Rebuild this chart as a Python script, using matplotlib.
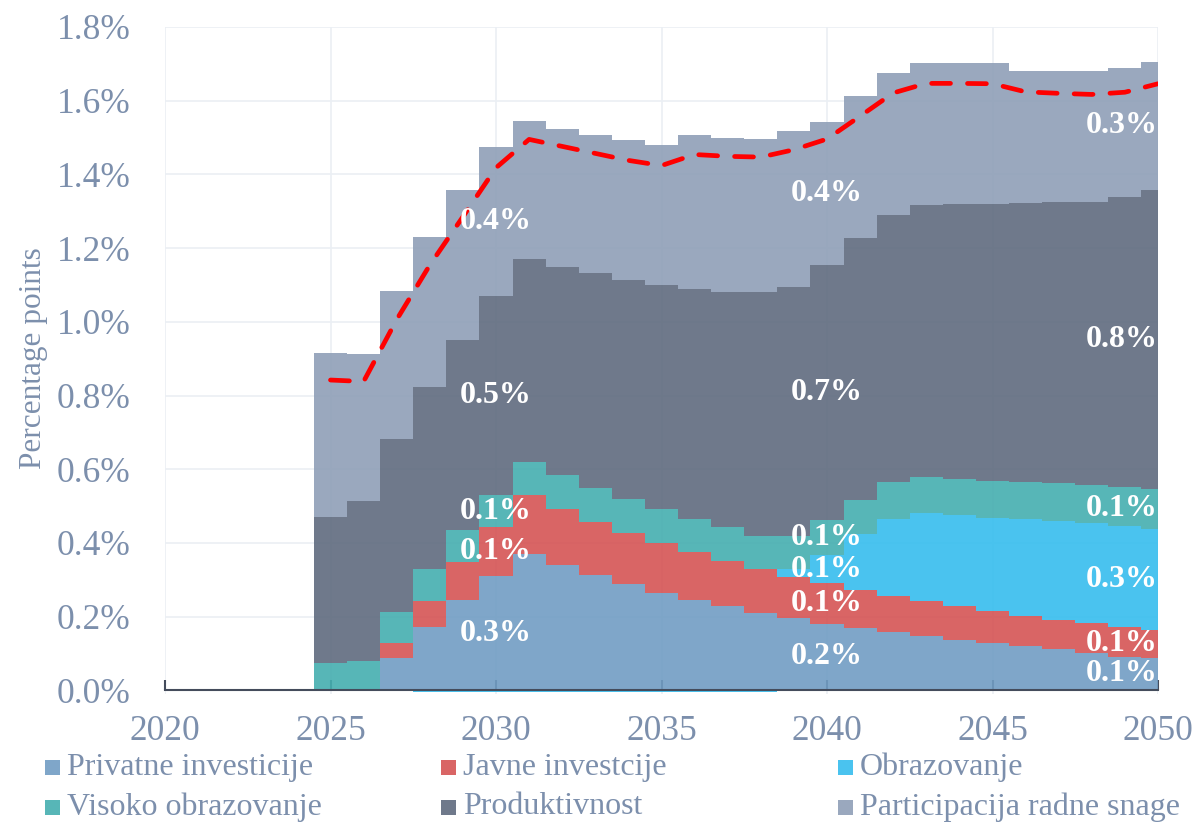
import matplotlib
matplotlib.use("Agg")
import matplotlib.pyplot as plt
from matplotlib.patches import Rectangle
from matplotlib.ticker import FuncFormatter, MultipleLocator
import numpy as np

plt.rcParams["font.family"] = ["Liberation Serif", "DejaVu Serif"]

# ── podaci (postotni poeni) ─────────────────────────────────────────────────
years = list(range(2020, 2051))

privatne = [0, 0, 0, 0, 0,
            -0.003, -0.003, 0.089, 0.172, 0.245, 0.310, 0.370, 0.340, 0.3125, 0.288,
            0.265, 0.245, 0.228, 0.210, 0.195, 0.181, 0.169, 0.157, 0.147, 0.136,
            0.129, 0.120, 0.111, 0.102, 0.0905, 0.089]
javne = [0, 0, 0, 0, 0,
         0, 0, 0.039, 0.071, 0.104, 0.132, 0.161, 0.153, 0.1445, 0.140,
         0.135, 0.130, 0.123, 0.120, 0.113, 0.109, 0.103, 0.099, 0.095, 0.093,
         0.086, 0.082, 0.081, 0.081, 0.0815, 0.074]
obrazovanje = [0, 0, 0, 0, 0,
               0, 0, 0, -0.004, -0.004, -0.004, -0.004, -0.004, -0.004, -0.004,
               -0.004, -0.004, -0.004, -0.004, 0.022, 0.077, 0.151, 0.210, 0.238, 0.247,
               0.253, 0.262, 0.268, 0.270, 0.274, 0.276]
visoko = [0, 0, 0, 0, 0,
          0.075, 0.079, 0.084, 0.086, 0.086, 0.089, 0.088, 0.090, 0.091, 0.091,
          0.091, 0.091, 0.091, 0.090, 0.088, 0.095, 0.094, 0.098, 0.098, 0.097,
          0.101, 0.101, 0.102, 0.103, 0.105, 0.107]
produktivnost = [0, 0, 0, 0, 0,
                 0.396, 0.435, 0.469, 0.495, 0.516, 0.538, 0.552, 0.567, 0.584, 0.595,
                 0.610, 0.624, 0.640, 0.660, 0.676, 0.693, 0.710, 0.725, 0.739, 0.746,
                 0.752, 0.757, 0.762, 0.770, 0.787, 0.813]
participacija = [0, 0, 0, 0, 0,
                 0.444, 0.399, 0.402, 0.405, 0.407, 0.405, 0.375, 0.374, 0.375, 0.379,
                 0.378, 0.417, 0.418, 0.416, 0.423, 0.388, 0.386, 0.385, 0.384, 0.382,
                 0.382, 0.359, 0.357, 0.355, 0.350, 0.345]
ukupno = [np.nan] * 5 + [
    0.842, 0.838, 1.006, 1.154, 1.285, 1.418, 1.495, 1.476, 1.457, 1.438,
    1.424, 1.454, 1.449, 1.447, 1.467, 1.496, 1.558, 1.621, 1.647, 1.647,
    1.646, 1.624, 1.620, 1.617, 1.623, 1.646]

labels = ["Privatne investicije", "Javne investcije", "Obrazovanje",
          "Visoko obrazovanje", "Produktivnost", "Participacija radne snage"]
series = [privatne, javne, obrazovanje, visoko, produktivnost, participacija]
colors = ["#719DC3", "#D55454", "#36BDEE", "#45AEB0", "#5F6B7E", "#8F9FB7"]
label_years = [2030, 2040, 2050]

TXT = "#7C8FAC"

fig = plt.figure(figsize=(11.99, 8.24), dpi=100)
ax = fig.add_axes([165 / 1199, 1 - 694 / 824, (1158 - 165) / 1199, (694 - 27) / 824])

x = np.array(years)
pos = np.zeros(len(x))
neg = np.zeros(len(x))
segments = []
for name, vals, col in zip(labels, series, colors):
    v = np.array(vals, dtype=float)
    bottom = np.where(v >= 0, pos, neg)
    ax.bar(x, v, width=1.0, bottom=bottom, color=col, alpha=0.9,
           linewidth=0, antialiased=False, zorder=2)
    segments.append((v, bottom))
    pos = pos + np.clip(v, 0, None)
    neg = neg + np.clip(v, None, 0)

ax.plot(x, ukupno, color="#FF0000", linewidth=3.4, linestyle=(0, (4, 3.6)),
        dash_capstyle="round", zorder=4)

# oznake vrijednosti
for yr in label_years:
    i = years.index(yr)
    for v, bottom in segments:
        if v[i] <= 0.01:
            continue
        ha = "right" if yr == years[-1] else "center"
        ax.text(yr, bottom[i] + v[i] / 2, f"{v[i]:.1f}%", ha=ha, va="center",
                color="white", fontsize=23, fontweight="bold", zorder=5)

ax.set_xlim(2020, 2050)
ax.set_ylim(-0.01, 1.8)
ax.xaxis.set_major_locator(MultipleLocator(5))
ax.yaxis.set_major_locator(MultipleLocator(0.2))
ax.yaxis.set_major_formatter(FuncFormatter(lambda v, p: f"{v:.1f}%"))
ax.grid(True, color="#EBEFF4", linewidth=1.2, zorder=0)
ax.set_axisbelow(True)

for s in ("top", "right", "left"):
    ax.spines[s].set_visible(False)
ax.spines["bottom"].set_position(("data", 0))
ax.spines["bottom"].set_color("#444C5C")
ax.spines["bottom"].set_linewidth(1.5)
ax.spines["bottom"].set_zorder(6)

ax.tick_params(axis="x", direction="in", length=7, width=1.5, color="#444C5C",
               labelsize=25.5, labelcolor=TXT, pad=18)
ax.tick_params(axis="y", length=0, labelsize=25.5, labelcolor=TXT, pad=25)

fig.text(34 / 1199, 1 - 358 / 824, "Percentage points", rotation=90,
         ha="center", va="center", fontsize=22.5, color=TXT)

# legenda
col_x = [45, 441, 838]
row_y = [767, 807]
for k, (name, col) in enumerate(zip(labels, colors)):
    r, c = divmod(k, 3)
    mx, my = col_x[c], row_y[r]
    fig.patches.append(Rectangle((mx / 1199, 1 - (my + 8) / 824), 15 / 1199, 15 / 824,
                                 transform=fig.transFigure, facecolor=col,
                                 alpha=0.9, linewidth=0))
    fig.text((mx + 22) / 1199, 1 - my / 824, name, ha="left", va="center",
             fontsize=23, color=TXT)

fig.savefig("out.png", dpi=100)
